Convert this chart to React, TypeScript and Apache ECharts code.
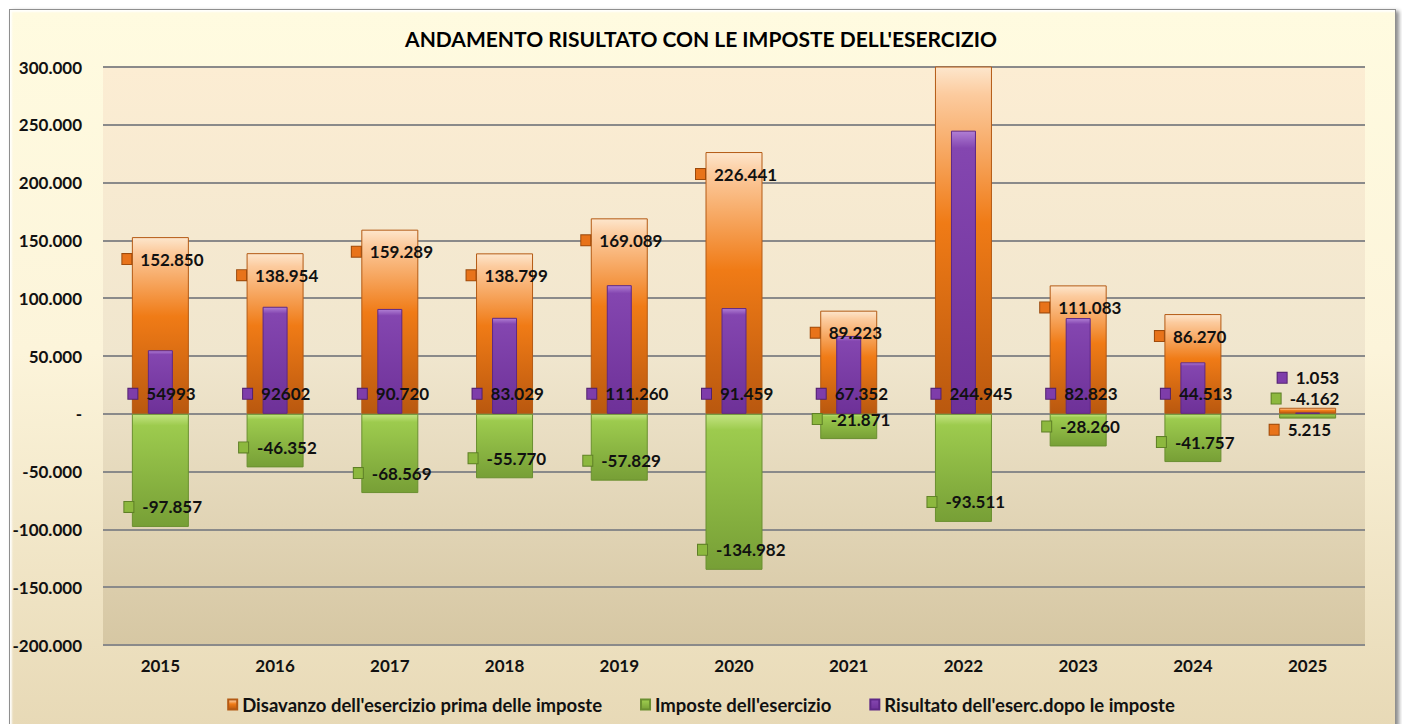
import React, { useEffect, useRef } from "react";
import * as echarts from "echarts";

const categories = ["2015", "2016", "2017", "2018", "2019", "2020", "2021", "2022", "2023", "2024", "2025"];
const disavanzo = [152850, 138954, 159289, 138799, 169089, 226441, 89223, 338456, 111083, 86270, 5215];
const imposte = [-97857, -46352, -68569, -55770, -57829, -134982, -21871, -93511, -28260, -41757, -4162];
const risultato = [54993, 92602, 90720, 83029, 111260, 91459, 67352, 244945, 82823, 44513, 1053];
const risultatoNoGrouping = [0, 1];
const hiddenDisavanzoLabels = [7];
const seriesNames = [
  "Disavanzo dell'esercizio prima delle imposte",
  "Imposte dell'esercizio",
  "Risultato dell'eserc.dopo le imposte",
];
const yMin = -200000;
const yMax = 300000;
const yStep = 50000;
const titleText = "ANDAMENTO RISULTATO CON LE IMPOSTE DELL'ESERCIZIO";

const FONT = "Lato, 'Open Sans', sans-serif";

function fmt(v: number): string {
  const s = String(Math.abs(v)).replace(/\B(?=(\d{3})+(?!\d))/g, ".");
  return (v < 0 ? "-" : "") + s;
}

const orangeGrad = new echarts.graphic.LinearGradient(0, 0, 0, 1, [
  { offset: 0, color: "#FDE6CC" },
  { offset: 0.08, color: "#FCCB9E" },
  { offset: 0.45, color: "#F07B16" },
  { offset: 1, color: "#B9580F" },
]);
const greenGrad = new echarts.graphic.LinearGradient(0, 0, 0, 1, [
  { offset: 0, color: "#C4E482" },
  { offset: 0.1, color: "#9DCB4E" },
  { offset: 1, color: "#779F36" },
]);
const purpleGrad = new echarts.graphic.LinearGradient(0, 0, 0, 1, [
  { offset: 0, color: "#B07FD4" },
  { offset: 0.06, color: "#8446B0" },
  { offset: 1, color: "#6E3198" },
]);

function rich(markerColor: string, markerBorder: string) {
  return {
    m: {
      width: 9,
      height: 10,
      backgroundColor: markerColor,
      borderColor: markerBorder,
      borderWidth: 1,
    },
    v: {
      fontFamily: FONT,
      fontWeight: "bold",
      fontSize: 17,
      color: "#111",
      padding: [0, 0, 0, 9],
    },
  };
}

export default function App() {
  const ref = useRef<HTMLDivElement>(null);

  useEffect(() => {
    if (!ref.current) return;
    const chart = echarts.init(ref.current, undefined, { renderer: "svg" });

    const orangeData = disavanzo.map((v, i) =>
      hiddenDisavanzoLabels.includes(i) ? { value: v, label: { show: false } } : v
    );
    const purpleData = risultato.map((v, i) =>
      i === categories.length - 1 ? { value: v, label: { offset: [-30, -36] } } : v
    );

    chart.setOption({
      animation: false,
      backgroundColor: "transparent",
      title: {
        text: titleText,
        left: "center",
        top: 23,
        textStyle: { fontFamily: FONT, fontWeight: "bold", fontSize: 21, color: "#000" },
      },
      legend: {
        bottom: 5,
        left: "center",
        itemWidth: 9,
        itemHeight: 10,
        itemGap: 38,
        icon: "rect",
        textStyle: { fontFamily: FONT, fontWeight: "bold", fontSize: 18.5, color: "#111" },
        data: seriesNames,
      },
      grid: {
        left: 103,
        right: 37,
        top: 67,
        bottom: 79,
        show: true,
        borderWidth: 0,
        backgroundColor: new echarts.graphic.LinearGradient(0, 0, 0, 1, [
          { offset: 0, color: "#FCEDD3" },
          { offset: 0.5, color: "#F0E6CE" },
          { offset: 1, color: "#D6C7A3" },
        ]),
      },
      xAxis: [
        {
          type: "category",
          data: categories,
          axisLine: { show: false },
          axisTick: { show: false },
          axisLabel: {
            fontFamily: FONT,
            fontWeight: "bold",
            fontSize: 17,
            color: "#111",
            margin: 12,
          },
        },
        { type: "category", data: categories, show: false },
      ],
      yAxis: {
        type: "value",
        min: yMin,
        max: yMax,
        interval: yStep,
        axisLine: { show: false },
        axisTick: { show: false },
        splitLine: { lineStyle: { color: "#8A8A8A", width: 2 } },
        axisLabel: {
          fontFamily: FONT,
          fontWeight: "bold",
          fontSize: 17,
          color: "#111",
          margin: 21,
          formatter: (v: number) => (v === 0 ? "-" : fmt(v)),
        },
      },
      series: [
        {
          name: seriesNames[0],
          type: "bar",
          xAxisIndex: 0,
          data: orangeData,
          barWidth: 57,
          barGap: "-100%",
          itemStyle: { color: orangeGrad, borderColor: "#B45A14", borderWidth: 1 },
          label: {
            show: true,
            position: ["50%", 0],
            offset: [-38, 22],
            align: "left",
            verticalAlign: "middle",
            formatter: (p: any) => `{m|}{v|${fmt(p.value)}}`,
            rich: rich("#E8731A", "#9C4A0C"),
          },
        },
        {
          name: seriesNames[1],
          type: "bar",
          xAxisIndex: 0,
          data: imposte,
          barWidth: 57,
          barGap: "-100%",
          itemStyle: { color: greenGrad, borderColor: "#6A8F30", borderWidth: 1 },
          label: {
            show: true,
            position: ["50%", "100%"],
            offset: [-36, -20],
            align: "left",
            verticalAlign: "middle",
            formatter: (p: any) => `{m|}{v|${fmt(p.value)}}`,
            rich: rich("#8DB83E", "#5E7F26"),
          },
        },
        {
          name: seriesNames[2],
          type: "bar",
          xAxisIndex: 1,
          data: purpleData,
          barWidth: 25,
          itemStyle: { color: purpleGrad, borderColor: "#5E2887", borderWidth: 1 },
          label: {
            show: true,
            position: ["50%", "100%"],
            offset: [-32, -20],
            align: "left",
            verticalAlign: "middle",
            formatter: (p: any) =>
              `{m|}{v|${risultatoNoGrouping.includes(p.dataIndex) ? String(p.value) : fmt(p.value)}}`,
            rich: rich("#7E3DAA", "#52206F"),
          },
        },
      ],
    });

    return () => chart.dispose();
  }, []);

  return (
    <div style={{ position: "fixed", left: 0, top: 0, width: 1402, height: 724, overflow: "hidden", background: "#fff" }}>
      <div
        style={{
          position: "absolute",
          left: 9,
          top: 9,
          width: 1385,
          height: 760,
          border: "1px solid #8f8f8f",
          boxShadow: "3px 2px 4px rgba(0,0,0,0.45), inset 2px 2px 2px rgba(255,255,255,0.9)",
          background: "linear-gradient(180deg, #FFFBE0 0%, #FCF4DA 45%, #E5D6B2 100%)",
        }}
      />
      <div ref={ref} style={{ position: "absolute", left: 0, top: 0, width: 1402, height: 724 }} />
    </div>
  );
}
